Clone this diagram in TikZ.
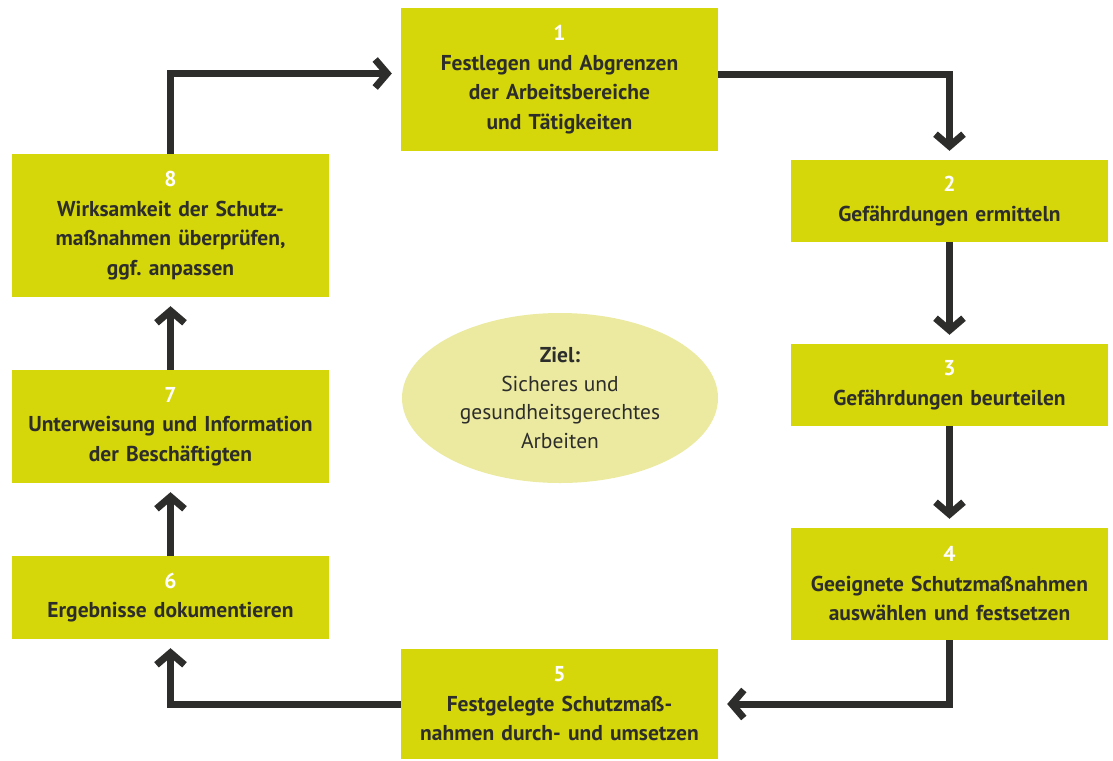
\documentclass[tikz,border=0pt]{standalone}
\usepackage{fontspec}
\setmainfont{PT Sans}
\usetikzlibrary{positioning,arrows.meta,calc,shapes.geometric}
\definecolor{lime}{HTML}{D6D70B}
\definecolor{limelight}{HTML}{EBEAA0}
\definecolor{dark}{HTML}{2D2D2B}
\frenchspacing

\begin{document}
\begin{tikzpicture}[x=1pt, y=-1pt,
  font=\bfseries\fontsize{21.5}{29.5}\selectfont, text=dark,
  p/.style={fill=lime, align=center, inner sep=0pt, minimum width=317pt, text width=310pt},
  ziel/.style={ellipse, fill=limelight, align=center, inner sep=0pt, minimum width=316pt, minimum height=170pt, font=\fontsize{21.5}{28.5}\selectfont},
  arr/.style={draw=dark, line width=7pt, -{Straight Barb[length=12pt, width=28pt, sharp]}, shorten >=9pt}]
\useasboundingbox (0,0) rectangle (1113,760);
\newcommand{\nr}[1]{\textcolor{white}{#1}}
% steps, clockwise
\node[p, minimum height=143pt] (b1) at (559.5,79.5) {\nr{1}\\Festlegen und Abgrenzen\\der Arbeitsbereiche\\und Tätigkeiten};
\node[p, minimum height=82pt] (b2) at (949.5,201) {\nr{2}\\Gefährdungen ermitteln};
\node[p, minimum height=82pt] (b3) at (949.5,385) {\nr{3}\\Gefährdungen beurteilen};
\node[p, minimum height=112pt] (b4) at (949.5,584) {\nr{4}\\Geeignete Schutzmaßnahmen\\auswählen und festsetzen};
\node[p, minimum height=110pt] (b5) at (559.5,704) {\nr{5}\\Festgelegte Schutzmaß-\\nahmen durch- und umsetzen};
\node[p, minimum height=83pt] (b6) at (170.5,597.5) {\nr{6}\\Ergebnisse dokumentieren};
\node[p, minimum height=113pt] (b7) at (170.5,426.5) {\nr{7}\\Unterweisung und Information\\der Beschäftigten};
\node[p, minimum height=143pt] (b8) at (170.5,225.5) {\nr{8}\\Wirksamkeit der Schutz-\\maßnahmen überprüfen,\\ggf. anpassen};
% goal
\node[ziel] (z) at (560,398) {\textbf{Ziel:}\\Sicheres und\\gesundheitsgerechtes\\Arbeiten};
% cycle
\draw[arr] ($(b1.east)+(0,-5)$) -| (b2.north);
\draw[arr] (b2) -- (b3);
\draw[arr] (b3) -- (b4);
\draw[arr] (b4.south) |- (b5.east);
\draw[arr] (b5.west) -| (b6.south);
\draw[arr] (b6) -- (b7);
\draw[arr] (b7) -- (b8);
\draw[arr] (b8.north) |- ($(b1.west)+(0,-6)$);
\end{tikzpicture}
\end{document}
